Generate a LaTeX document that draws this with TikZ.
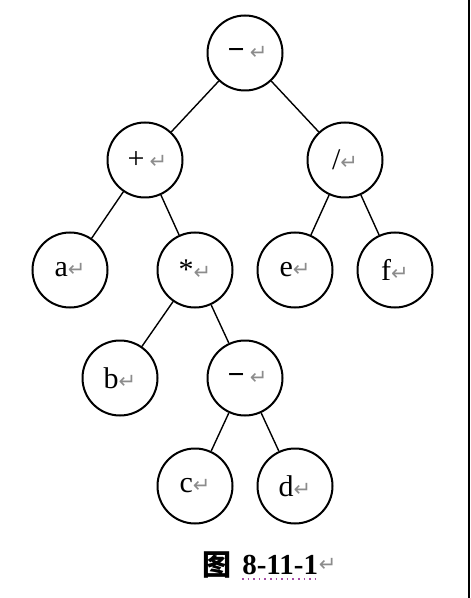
\documentclass[tikz,border=0pt]{standalone}
\usepackage{fontspec}
\setmainfont{Liberation Serif}
\newfontfamily\cjkfont{Noto Sans CJK SC}
\newfontfamily\symfont{DejaVu Sans}
\usepackage{xcolor}
\usetikzlibrary{positioning}
\newcommand{\ret}{{\symfont\fontsize{10.5}{10.5}\selectfont\color{black!45}↵}}

\begin{document}
\begin{tikzpicture}[x=0.5pt,y=-0.5pt,
  opnode/.style={circle,draw,line width=1pt,minimum size=37.5pt,inner sep=0pt,
    font=\fontsize{15}{17}\selectfont},
  branch/.style={line width=0.7pt},
  captext/.style={inner sep=0pt,font=\fontsize{14.5}{16}\selectfont\bfseries}]
  \useasboundingbox (0,0) rectangle (470,598);
  % tree
  \node[opnode] (root) at (245,53) {\,\textbf{−}\,\ret};
  \node[opnode] (plus) at (145,160) {\,+\,\ret};
  \node[opnode] (div) at (345,160) {/\ret};
  \node[opnode] (a) at (70,270) {a\ret};
  \node[opnode] (times) at (195,270) {*\ret};
  \node[opnode] (e) at (295,270) {e\ret};
  \node[opnode] (f) at (395,270) {f\ret};
  \node[opnode] (b) at (120,378) {b\ret};
  \node[opnode] (sub) at (245,378) {\,\textbf{−}\,\ret};
  \node[opnode] (c) at (195,486) {c\ret};
  \node[opnode] (d) at (295,486) {d\ret};
  \foreach \p/\q in {root/plus,root/div,plus/a,plus/times,div/e,div/f,
                     times/b,times/sub,sub/c,sub/d}
    \draw[branch] (\p) -- (\q);
  % caption
  \node[captext] (figchar) at (217,565) {\cjkfont 图};
  \node[captext,right=5pt of figchar] (fignum) {8-11-1};
  \node[inner sep=0pt,right=0pt of fignum] (figret) {\ret};
  \draw[violet!70,line width=0.8pt,dotted]
    ([yshift=-2pt]fignum.south west) -- ([yshift=-2pt]fignum.south east);
  % right edge
  \draw[line width=1pt] (468.5,0) -- (468.5,598);
\end{tikzpicture}
\end{document}
